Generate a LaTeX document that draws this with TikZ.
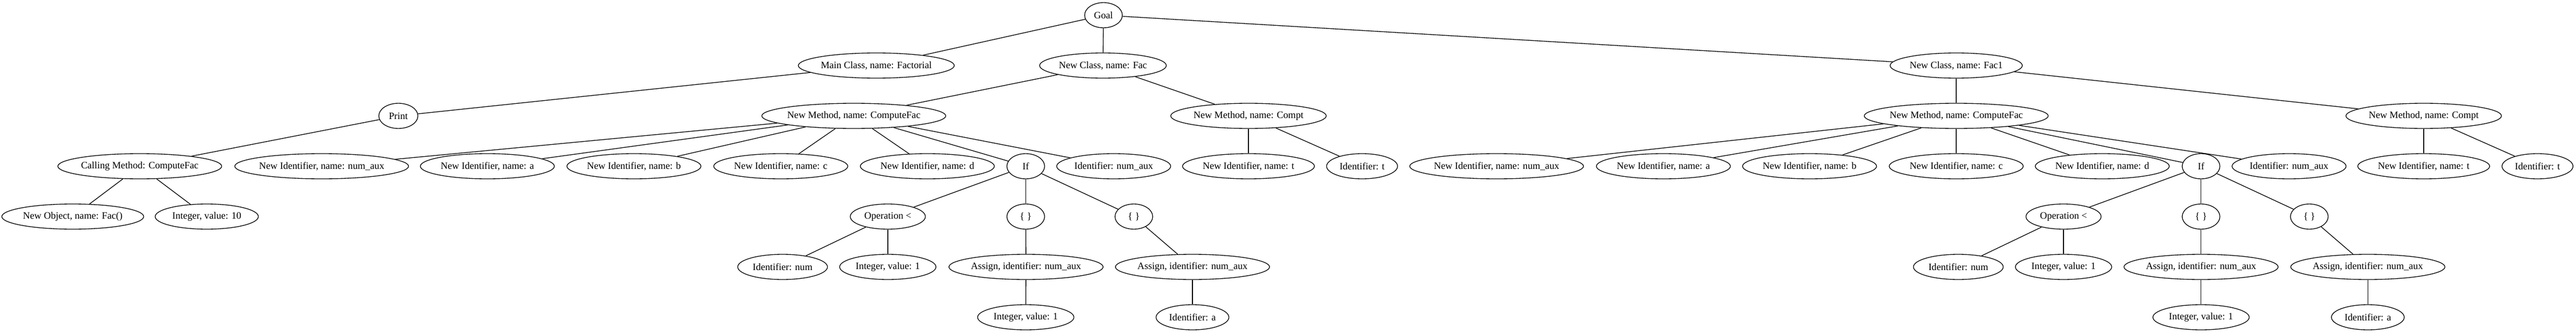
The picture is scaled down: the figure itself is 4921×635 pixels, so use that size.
\documentclass[tikz,border=0pt]{standalone}
\usepackage{fontspec}
\setmainfont{Liberation Serif}
\usepackage{tikz}
\usetikzlibrary{shapes.geometric, arrows}
\tikzset{ast/.style={ellipse, draw=black, line width=1pt, font=\fontsize{14pt}{16pt}\selectfont, minimum width=#1, minimum height=36pt, inner xsep=-3pt, inner ysep=4pt, text centered}, ast/.default=54pt}
\tikzstyle{edge} = [line width=1pt]

\begin{document}
\begin{tikzpicture}[x=0.75pt,y=-0.75pt]
\useasboundingbox (0,0) rectangle (4921,635);
% root and classes
\draw (2108,29) node (goal) [ast] {Goal};
\draw (1674,125) node (mainc) [ast=223.5pt] {Main Class, name: Factorial};
\draw (2107,125) node (cfac) [ast=181.5pt] {New Class, name: Fac};
\draw (3737,125) node (cfacb) [ast=189.4pt] {New Class, name: Fac1};
% methods
\draw (761,221) node (print) [ast=56pt] {Print};
\draw (1631,221) node (m1) [ast=263.6pt] {New Method, name: ComputeFac};
\draw (2385,221) node (m2) [ast=222.8pt] {New Method, name: Compt};
\draw (3737,221) node (m3) [ast=263.6pt] {New Method, name: ComputeFac};
\draw (4630,221) node (m4) [ast=222.8pt] {New Method, name: Compt};
% level 3
\draw (267,317) node (call) [ast=234.8pt] {Calling Method: ComputeFac};
\draw (614.5,317) node (i1) [ast=249pt] {New Identifier, name: num\_aux};
\draw (931,317) node (i2) [ast=192pt] {New Identifier, name: a};
\draw (1211,317) node (i3) [ast=192pt] {New Identifier, name: b};
\draw (1491.5,317) node (i4) [ast=192pt] {New Identifier, name: c};
\draw (1771.5,317) node (i5) [ast=192pt] {New Identifier, name: d};
\draw (1959.5,317) node (if1) [ast] {If};
\draw (2127.5,317) node (id1) [ast=163.3pt] {Identifier: num\_aux};
\draw (2385,317) node (t1) [ast=189pt] {New Identifier, name: t};
\draw (2602,317) node (tt1) [ast=101.7pt] {Identifier: t};
\draw (2859,317) node (j1) [ast=249pt] {New Identifier, name: num\_aux};
\draw (3177.6,317) node (j2) [ast=192pt] {New Identifier, name: a};
\draw (3456.8,317) node (j3) [ast=192pt] {New Identifier, name: b};
\draw (3737,317) node (j4) [ast=192pt] {New Identifier, name: c};
\draw (4016,317) node (j5) [ast=192pt] {New Identifier, name: d};
\draw (4204.7,317) node (if2) [ast] {If};
\draw (4372.8,317) node (id2) [ast=163.3pt] {Identifier: num\_aux};
\draw (4630,317) node (t2) [ast=189pt] {New Identifier, name: t};
\draw (4847.4,317) node (tt2) [ast=101.7pt] {Identifier: t};
% level 4
\draw (139,413) node (obj) [ast=203.3pt] {New Object, name: Fac()};
\draw (395,413) node (ten) [ast=147.8pt] {Integer, value: 10};
\draw (1696,413) node (op1) [ast=107.6pt] {Operation <};
\draw (1959.5,413) node (b1) [ast] {\{ \}};
\draw (2166,413) node (b2) [ast] {\{ \}};
\draw (3942,413) node (op2) [ast=107.6pt] {Operation <};
\draw (4204.7,413) node (b3) [ast] {\{ \}};
\draw (4411.5,413) node (b4) [ast] {\{ \}};
% level 5
\draw (1495,509) node (num1) [ast=128.6pt] {Identifier: num};
\draw (1696,509) node (one1) [ast=138pt] {Integer, value: 1};
\draw (1960,509) node (as1) [ast=220.9pt] {Assign, identifier: num\_aux};
\draw (2278,509) node (as2) [ast=220.9pt] {Assign, identifier: num\_aux};
\draw (3741,509) node (num2) [ast=128.6pt] {Identifier: num};
\draw (3942,509) node (one2) [ast=138pt] {Integer, value: 1};
\draw (4204.7,509) node (as3) [ast=220.9pt] {Assign, identifier: num\_aux};
\draw (4523.3,509) node (as4) [ast=220.9pt] {Assign, identifier: num\_aux};
% level 6
\draw (1959.5,605) node (one3) [ast=138pt] {Integer, value: 1};
\draw (2278,605) node (ida1) [ast=104.3pt] {Identifier: a};
\draw (4204.7,605) node (one4) [ast=138pt] {Integer, value: 1};
\draw (4523.3,605) node (ida2) [ast=104.3pt] {Identifier: a};
% edges
\draw[edge] (goal)--(mainc);
\draw[edge] (goal)--(cfac);
\draw[edge] (goal)--(cfacb);
\draw[edge] (mainc)--(print);
\draw[edge] (print)--(call);
\draw[edge] (call)--(obj);
\draw[edge] (call)--(ten);
\draw[edge] (cfac)--(m1);
\draw[edge] (cfac)--(m2);
\draw[edge] (m1)--(i1);
\draw[edge] (m1)--(i2);
\draw[edge] (m1)--(i3);
\draw[edge] (m1)--(i4);
\draw[edge] (m1)--(i5);
\draw[edge] (m1)--(if1);
\draw[edge] (m1)--(id1);
\draw[edge] (if1)--(op1);
\draw[edge] (if1)--(b1);
\draw[edge] (if1)--(b2);
\draw[edge] (op1)--(num1);
\draw[edge] (op1)--(one1);
\draw[edge] (b1)--(as1);
\draw[edge] (b2)--(as2);
\draw[edge] (as1)--(one3);
\draw[edge] (as2)--(ida1);
\draw[edge] (m2)--(t1);
\draw[edge] (m2)--(tt1);
\draw[edge] (cfacb)--(m3);
\draw[edge] (cfacb)--(m4);
\draw[edge] (m3)--(j1);
\draw[edge] (m3)--(j2);
\draw[edge] (m3)--(j3);
\draw[edge] (m3)--(j4);
\draw[edge] (m3)--(j5);
\draw[edge] (m3)--(if2);
\draw[edge] (m3)--(id2);
\draw[edge] (if2)--(op2);
\draw[edge] (if2)--(b3);
\draw[edge] (if2)--(b4);
\draw[edge] (op2)--(num2);
\draw[edge] (op2)--(one2);
\draw[edge] (b3)--(as3);
\draw[edge] (b4)--(as4);
\draw[edge] (as3)--(one4);
\draw[edge] (as4)--(ida2);
\draw[edge] (m4)--(t2);
\draw[edge] (m4)--(tt2);
\end{tikzpicture}
\end{document}
